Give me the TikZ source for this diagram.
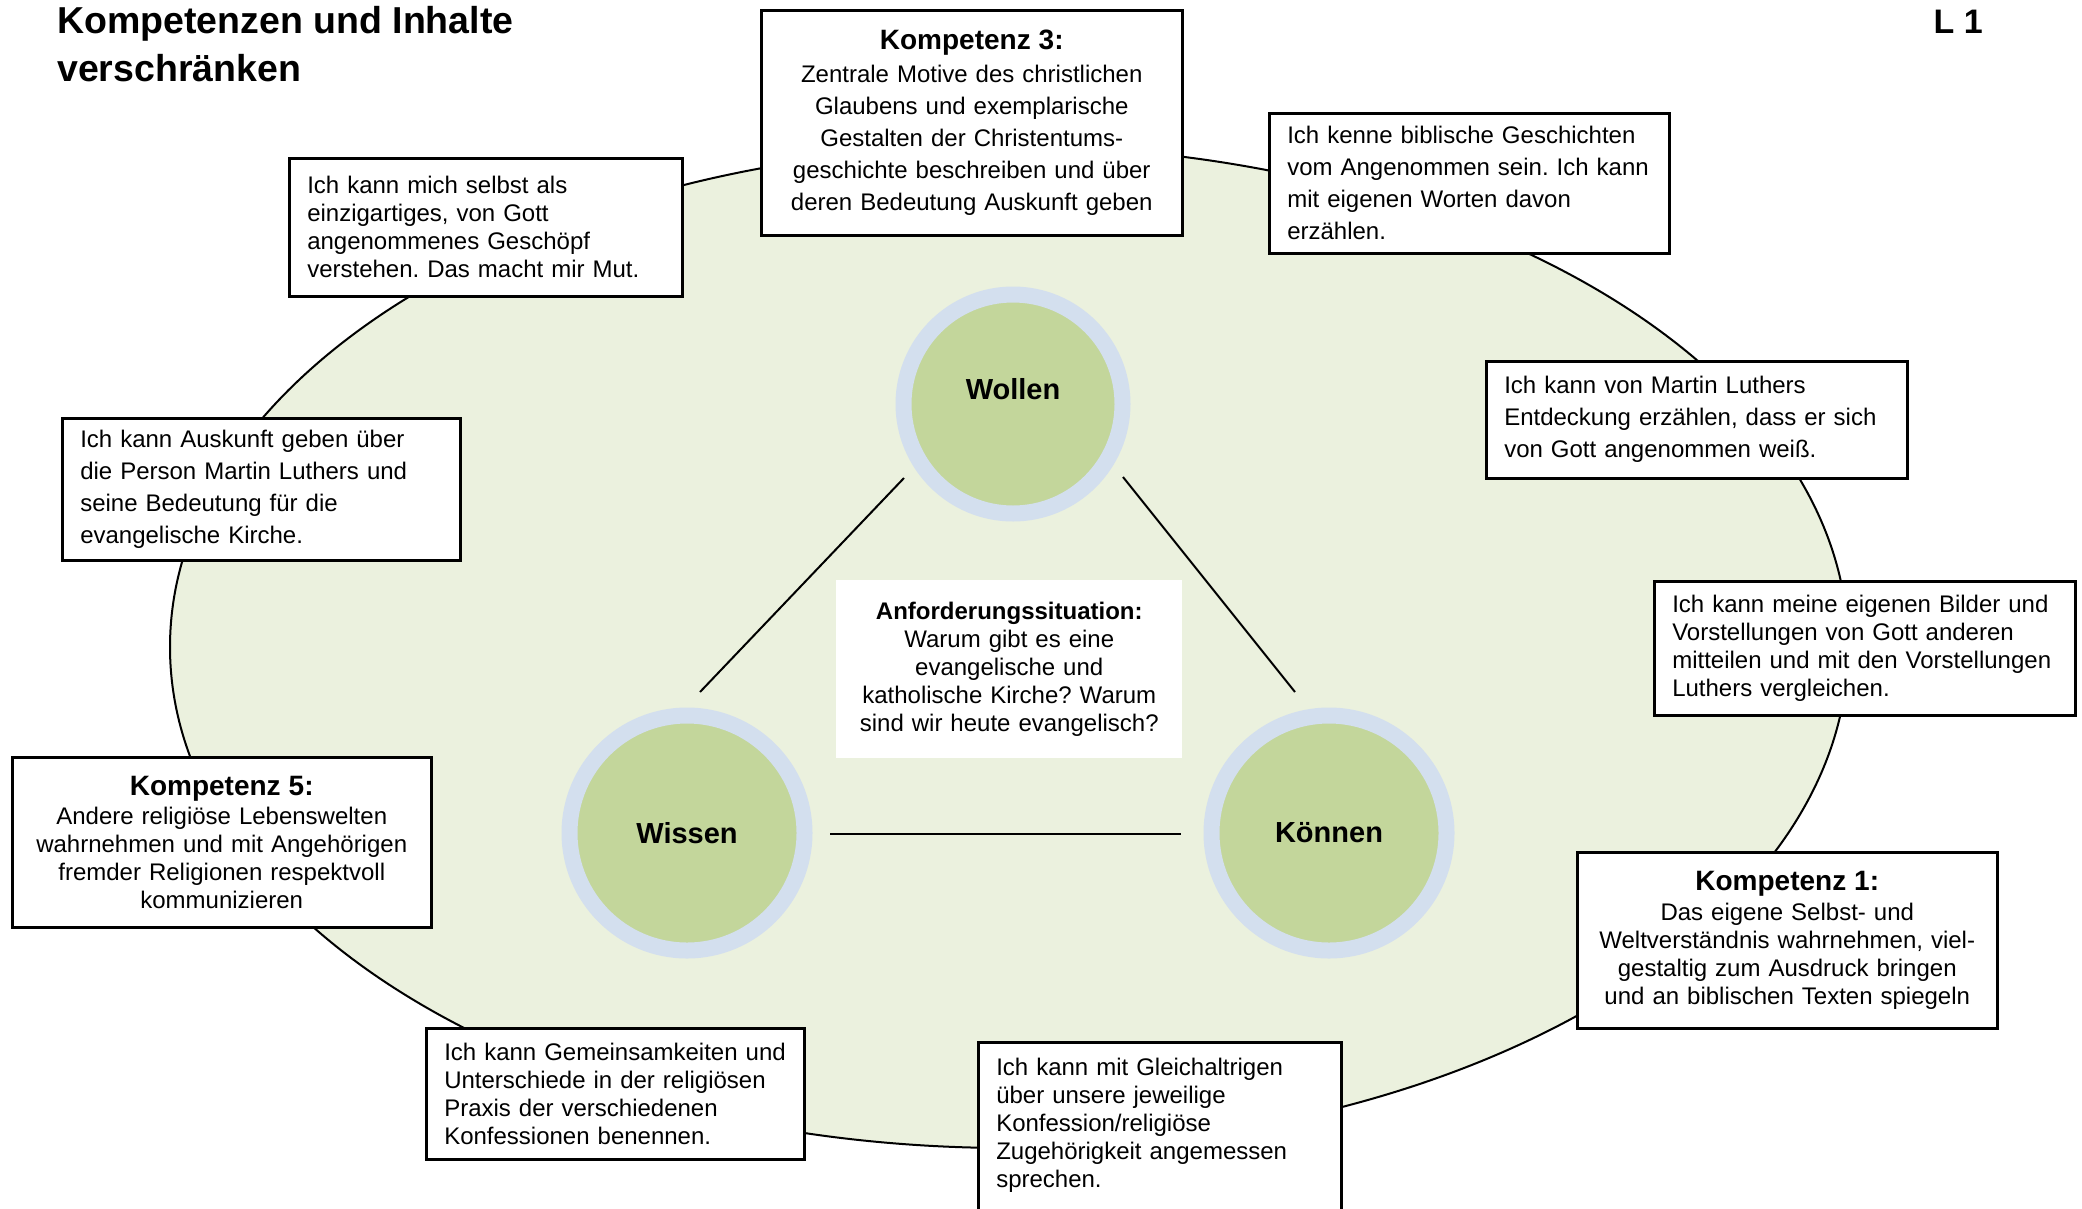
\documentclass[tikz,border=0pt]{standalone}
\usepackage{fontspec}
\setmainfont{Liberation Sans}
\usepackage{xcolor}
\definecolor{ovalgreen}{HTML}{EBF1DE}
\definecolor{ringblue}{HTML}{D3DFEE}
\definecolor{coregreen}{HTML}{C3D69B}

\begin{document}
\frenchspacing
\begin{tikzpicture}[x=10pt,y=10pt,
  every node/.style={inner sep=0pt},
  stmt/.style={draw=black, line width=2.5pt, fill=white, anchor=north west, align=left, inner xsep=18pt, font=\fontsize{24}{28}\selectfont},
  komp/.style={draw=black, line width=2.5pt, fill=white, anchor=north west, align=center, inner xsep=10pt, font=\fontsize{24}{28}\selectfont},
  pole/.style={circle, fill=coregreen, draw=ringblue, line width=16pt, font=\fontsize{29}{34}\selectfont\bfseries},
  link/.style={line width=2pt}]
  \useasboundingbox (0,0) rectangle (208.2,-120.8);
  \draw [fill=ovalgreen, line width=2pt] (100.9,-64.7) ellipse [x radius=839pt, y radius=501pt];

  \node [anchor=north west, align=left, font=\fontsize{37.5}{48}\selectfont\bfseries] (title) at (5.7,-0.6) {Kompetenzen und Inhalte\\verschränken};
  \node [anchor=base east, font=\fontsize{34}{40}\selectfont\bfseries] (blatt) at (198.3,-3.3) {L 1};

  \node [pole, minimum size=219pt] (wollen) at (101.3,-40.4) {\raisebox{14.5pt}[\height][\depth]{Wollen}};
  \node [pole, minimum size=235pt] (wissen) at (68.7,-83.3) {Wissen};
  \node [pole, minimum size=235pt] (koennen) at (132.9,-83.3) {Können};

  \coordinate (l1a) at (90.4,-47.8);
  \coordinate (l1b) at (70.0,-69.2);
  \coordinate (l2a) at (112.3,-47.7);
  \coordinate (l2b) at (129.5,-69.2);
  \coordinate (l3a) at (83.0,-83.4);
  \coordinate (l3b) at (118.1,-83.4);
  \draw [link] (l1a) -- (l1b);
  \draw [link] (l2a) -- (l2b);
  \draw [link] (l3a) -- (l3b);

  \node [komp, draw=none, text width=326pt, minimum height=178pt] (anf) at (83.5,-57.9)
    {\textbf{Anforderungssituation:}\\ Warum gibt es eine\\ evangelische und\\ katholische Kirche? Warum\\ sind wir heute evangelisch?};

  \node [stmt, text width=357pt, minimum height=138pt] (selbst) at (28.8,-15.7)
    {Ich kann mich selbst als\\ einzigartiges, von Gott\\ angenommenes Geschöpf\\ verstehen. Das macht mir Mut.};
  \node [komp, text width=401pt, minimum height=225pt, font=\fontsize{24}{32}\selectfont] (komp3) at (76.0,-0.9)
    {{\fontsize{28}{32}\selectfont\bfseries Kompetenz 3:}\\[1pt] Zentrale Motive des christlichen\\ Glaubens und exemplarische\\ Gestalten der Christentums-\\ geschichte beschreiben und über\\ deren Bedeutung Auskunft geben};
  \node [stmt, text width=364pt, minimum height=140pt, font=\fontsize{24}{32}\selectfont] (bibel) at (126.8,-11.2)
    {Ich kenne biblische Geschichten\\ vom Angenommen sein. Ich kann\\ mit eigenen Worten davon\\ erzählen.};
  \node [stmt, text width=385pt, minimum height=117pt, font=\fontsize{24}{32}\selectfont] (entdeckung) at (148.5,-36.0)
    {Ich kann von Martin Luthers\\ Entdeckung erzählen, dass er sich\\ von Gott angenommen weiß.};
  \node [stmt, text width=385pt, minimum height=134pt] (bilder) at (165.3,-58.0)
    {Ich kann meine eigenen Bilder und\\ Vorstellungen von Gott anderen\\ mitteilen und mit den Vorstellungen\\ Luthers vergleichen.};
  \node [komp, text width=400pt, minimum height=176pt] (komp1) at (157.6,-85.1)
    {{\fontsize{28}{32}\selectfont\bfseries Kompetenz 1:}\\[2.6pt] Das eigene Selbst- und\\ Weltverständnis wahrnehmen, viel-\\ gestaltig zum Ausdruck bringen\\ und an biblischen Texten spiegeln};
  \node [stmt, text width=327pt, inner ysep=16pt] (gleich) at (97.7,-104.1)
    {Ich kann mit Gleichaltrigen\\ über unsere jeweilige\\ Konfession/religiöse\\ Zugehörigkeit angemessen\\ sprechen.\\ \strut};
  \node [stmt, text width=342pt, minimum height=131pt] (praxis) at (42.5,-102.7)
    {Ich kann Gemeinsamkeiten und\\ Unterschiede in der religiösen\\ Praxis der verschiedenen\\ Konfessionen benennen.};
  \node [komp, text width=399pt, minimum height=170pt] (komp5) at (1.1,-75.6)
    {{\fontsize{28}{32}\selectfont\bfseries Kompetenz 5:}\\[1pt] Andere religiöse Lebenswelten\\ wahrnehmen und mit Angehörigen\\ fremder Religionen respektvoll\\ kommunizieren};
  \node [stmt, text width=362pt, minimum height=142pt, font=\fontsize{24}{32}\selectfont] (luther) at (6.1,-41.7)
    {Ich kann Auskunft geben über\\ die Person Martin Luthers und\\ seine Bedeutung für die\\ evangelische Kirche.};
\end{tikzpicture}
\end{document}
